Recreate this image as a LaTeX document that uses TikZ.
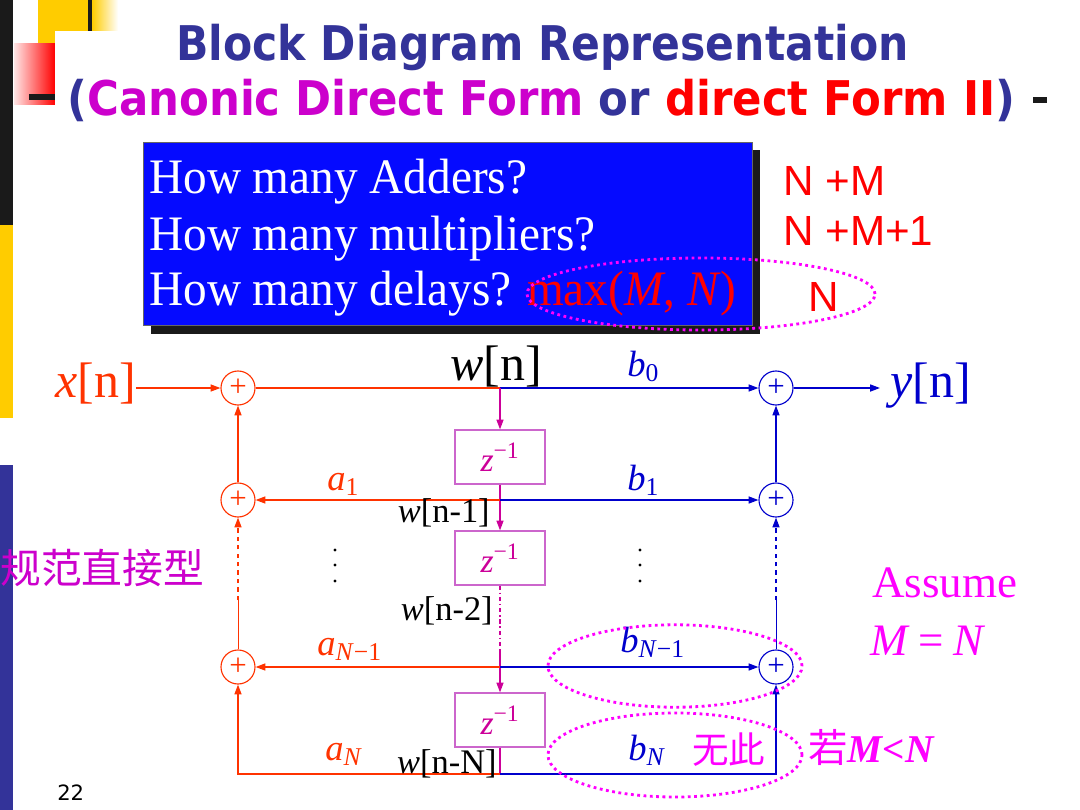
\documentclass[tikz,border=0pt]{standalone}
\usepackage{fontspec}
\usepackage{graphicx}
\setmainfont{Liberation Serif}
\newfontfamily\titlefont{DejaVu Sans}
\newfontfamily\countfont{Liberation Sans}
\newfontfamily\cjk{Noto Sans CJK SC}
\usetikzlibrary{arrows.meta}
\definecolor{xred}{RGB}{255,51,0}
\definecolor{yblue}{RGB}{0,0,204}
\definecolor{zmag}{RGB}{204,0,153}
\definecolor{zbox}{RGB}{204,102,204}
\definecolor{hotmag}{RGB}{255,0,255}
\definecolor{titleblue}{RGB}{51,51,153}
\definecolor{titlemag}{RGB}{204,0,204}
\definecolor{boxblue}{RGB}{5,10,255}
\definecolor{barblack}{RGB}{26,26,26}
\definecolor{baryellow}{RGB}{255,204,0}
\begin{document}
\begin{tikzpicture}[x=0.025cm,y=-0.025cm,
	lbl/.style={inner sep=0pt,anchor=base west},
	lble/.style={inner sep=0pt,anchor=base east},
	bigtext/.style={font=\fontsize{35.5}{40}\selectfont},
	coef/.style={font=\fontsize{26}{30}\selectfont},
	wtext/.style={font=\fontsize{24.5}{28}\selectfont},
	qtext/.style={text=white,font=\fontsize{33.6}{40}\selectfont},
	count/.style={text=red,font=\fontsize{30}{30}\selectfont\countfont},
	adder/.style={circle,draw,line width=0.8pt,minimum size=0.85cm,inner sep=0pt,font=\fontsize{22}{22}\selectfont},
	delay/.style={draw=zbox,line width=0.8pt,minimum width=2.25cm,minimum height=1.35cm,text=zmag,font=\fontsize{24}{24}\selectfont},
	sig/.style={line width=1pt},
	tip/.style={-{Triangle[length=7pt,width=5pt]}},
	ring/.style={draw=hotmag,line width=2pt,dash pattern=on 2pt off 2.5pt}]
	\useasboundingbox (0,0) rectangle (1080,810);
	\fill[barblack] (0,0) rectangle (13,225);
	\fill[baryellow] (0,225) rectangle (13,418);
	\fill[titleblue] (0,465) rectangle (13,810);
	\fill[baryellow] (38,0) rectangle (92,43);
	\shade[left color=baryellow,right color=white] (92,0) rectangle (118,43);
	\shade[left color=red!10,right color=red] (14,43) rectangle (55,104);
	\fill[white] (55,31) rectangle (125,110);
	\draw[barblack,line width=3pt] (90,0) -- (90,31);
	\draw[barblack,line width=4.5pt] (29,97) -- (55,97);
	\draw[barblack,line width=4pt] (1033,100) -- (1047,100);
	\node[lbl] (title1) at (176,60) {\resizebox{18.3cm}{\height}{\fontsize{34}{40}\selectfont\titlefont\bfseries\color{titleblue}Block Diagram Representation}};
	\node[lbl] (title2) at (67,115) {\resizebox{23.7cm}{\height}{\fontsize{34}{40}\selectfont\titlefont\bfseries\color{titleblue}({\color{titlemag}Canonic Direct Form} or {\color{red}direct Form II})}};
	\fill[barblack] (151,150) rectangle (760,334);
	\draw[fill=boxblue,draw=black!60] (143,142) rectangle (752,325);
	\node[lbl,qtext] (q1) at (149,193) {\scalebox{1}[1.05]{How many Adders?}};
	\node[lbl,qtext] (q2) at (149,250) {\scalebox{1}[1.05]{How many multipliers?}};
	\node[lbl,qtext] (q3) at (149,305) {\scalebox{1}[1.05]{How many delays? \textcolor{red}{max(\textit{M}, \textit{N})}}};
	\node[lbl,count] (n1) at (783,195) {N +M};
	\node[lbl,count] (n2) at (783,245) {N +M+1};
	\node[lbl,count] (n3) at (808,311) {N};
	\draw[ring] (701,294) ellipse [x radius=4.35cm, y radius=0.9cm];
	\node[lbl,bigtext,text=xred] (xin) at (55,397) {\textit{x}[n]};
	\node[lbl,bigtext] (wn) at (450,380) {\textit{w}[n]};
	\node[lbl,bigtext,text=yblue] (yn) at (890,397) {\textit{y}[n]};
	\node[adder,xred] (A0) at (238,388) {+};
	\node[adder,xred] (A1) at (238,500) {+};
	\node[adder,xred] (A2) at (238,667) {+};
	\node[adder,yblue] (B0) at (776,388) {+};
	\node[adder,yblue] (B1) at (776,500) {+};
	\node[adder,yblue] (B2) at (776,667) {+};
	\node[delay] (D1) at (500,457) {\textit{z}\textsuperscript{−1}};
	\node[delay] (D2) at (500,558) {\textit{z}\textsuperscript{−1}};
	\node[delay] (D3) at (500,720) {\textit{z}\textsuperscript{−1}};
	\coordinate (w0) at (500,388);
	\coordinate (w1) at (500,500);
	\coordinate (w2) at (500,667);
	\coordinate (w3) at (500,774);
	\coordinate (gap) at (500,650);
	\coordinate (cA) at (238,774);
	\coordinate (cB) at (776,774);
	\coordinate (lgap) at (238,600);
	\coordinate (rgap) at (776,600);
	\coordinate (yout) at (880,388);
	\draw[sig,xred,tip] (xin.east |- A0) -- (A0);
	\draw[sig,xred] (A0) -- (w0);
	\draw[sig,yblue,tip] (w0) -- (B0);
	\draw[sig,yblue,tip] (B0) -- (yout);
	\draw[sig,zmag,tip] (w0) -- (D1);
	\draw[sig,zmag] (D1) -- (w1);
	\draw[sig,zmag,tip] (w1) -- (D2);
	\draw[sig,zmag,dash dot] (D2) -- (gap);
	\draw[sig,zmag,tip] (gap) -- (D3);
	\draw[sig,zmag] (D3) -- (w3);
	\draw[sig,xred,tip] (w1) -- (A1);
	\draw[sig,yblue,tip] (w1) -- (B1);
	\draw[sig,xred,tip] (w2) -- (A2);
	\draw[sig,yblue,tip] (w2) -- (B2);
	\draw[sig,xred,tip] (w3) -- (cA) -- (A2);
	\draw[sig,yblue,tip] (w3) -- (cB) -- (B2);
	\draw[sig,xred,tip] (A1) -- (A0);
	\draw[sig,yblue,tip] (B1) -- (B0);
	\draw[sig,xred,dashed,tip] (lgap) -- (A1);
	\draw[xred,thin] (A2) -- (lgap);
	\draw[sig,yblue,dashed,tip] (rgap) -- (B1);
	\draw[yblue,thin] (B2) -- (rgap);
	\node[lbl,coef,text=yblue] (b0) at (627,376) {\textit{b}\textsubscript{0}};
	\node[lbl,coef,text=xred] (a1) at (327,490) {\textit{a}\textsubscript{1}};
	\node[lbl,coef,text=yblue] (b1) at (627,490) {\textit{b}\textsubscript{1}};
	\node[lbl,coef,text=xred] (aN1) at (317,655) {\textit{a}\textsubscript{\textit{N}−1}};
	\node[lbl,coef,text=yblue] (bN1) at (620,652) {\textit{b}\textsubscript{\textit{N}−1}};
	\node[lbl,coef,text=xred] (aN) at (325,760) {\textit{a}\textsubscript{\textit{N}}};
	\node[lbl,coef,text=yblue] (bN) at (628,760) {\textit{b}\textsubscript{\textit{N}}};
	\node[lble,wtext] (wn1) at (490,522) {\textit{w}[n-1]};
	\node[lble,wtext] (wn2) at (493,620) {\textit{w}[n-2]};
	\node[lble,wtext] (wnN) at (497,773) {\textit{w}[n-N]};
	\foreach \y in {550,565,581} {
		\fill (335,\y) circle [radius=1.1pt];
		\fill (640,\y) circle [radius=1.1pt];
	}
	\draw[ring] (675,666) ellipse [x radius=3.175cm, y radius=1.03cm];
	\draw[ring] (675,755) ellipse [x radius=3.175cm, y radius=1.05cm];
	\node[lbl,text=hotmag,font=\fontsize{26}{30}\selectfont\cjk] (none) at (692,763) {无此};
	\node[lbl,text=hotmag,font=\fontsize{28}{30}\selectfont] (ifmn) at (808,762) {{\cjk 若}{\bfseries\itshape M<N}};
	\node[lbl,text=hotmag,font=\fontsize{32}{36}\selectfont] (assume) at (872,597) {Assume};
	\node[lbl,text=hotmag,font=\fontsize{32}{36}\selectfont] (meqn) at (870,655) {\textit{M}\hspace{0.2em}=\hspace{0.2em}\textit{N}};
	\node[lbl,text=titlemag,font=\fontsize{29}{32}\selectfont\cjk] (cdf) at (0,583) {规范直接型};
	\node[lbl,font=\fontsize{15}{18}\selectfont\titlefont] (page) at (57,800) {22};
\end{tikzpicture}
\end{document}
